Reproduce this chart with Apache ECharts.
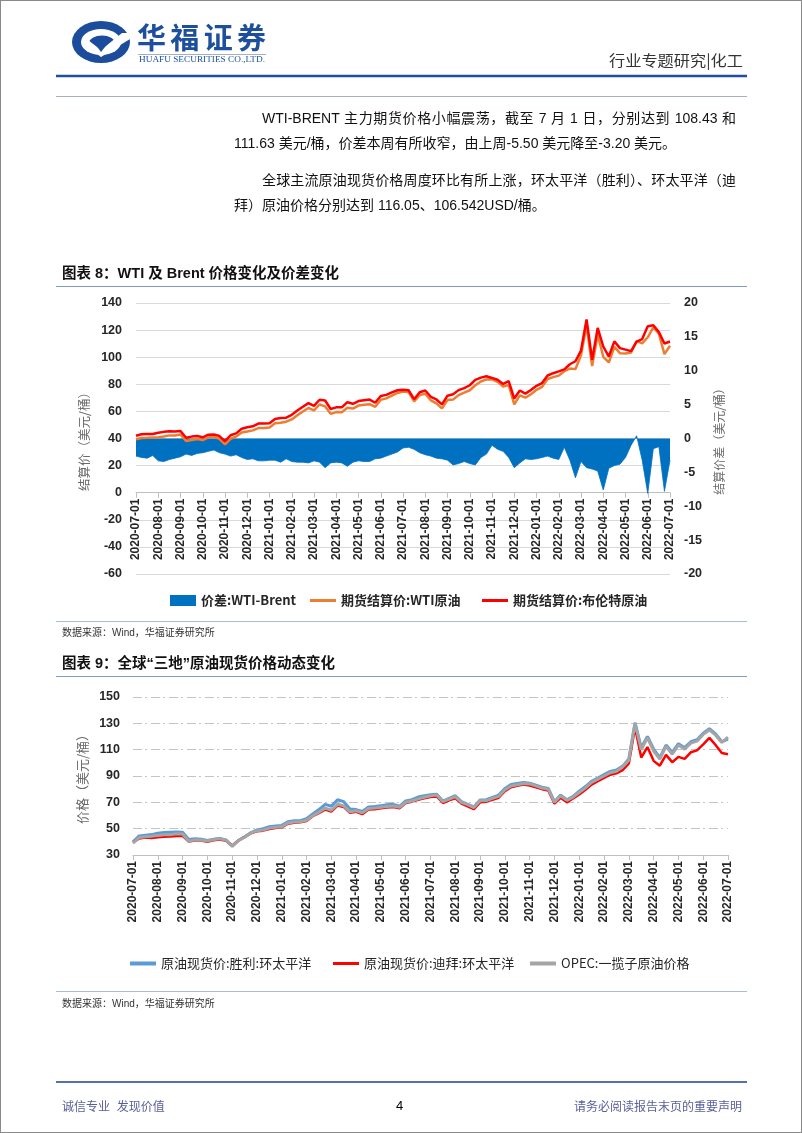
<!DOCTYPE html>
<html><head><meta charset="utf-8">
<script src="https://cdn.jsdelivr.net/npm/echarts@6/dist/echarts.min.js"></script>
<style>
html,body{margin:0;padding:0;background:#fff;}
#page{position:relative;width:802px;height:1133px;overflow:hidden;font-family:"Liberation Sans","Noto Sans CJK SC",sans-serif;background:#fff;}
#frame{position:absolute;left:0;top:0;width:802px;height:1133px;box-sizing:border-box;border:1px solid #8a8a8a;pointer-events:none;}
#chart{position:absolute;left:0;top:0;width:802px;height:1133px;}
.t{position:absolute;white-space:nowrap;color:#111;}
.p{font-size:14px;line-height:20px;height:20px;}
.j{text-align:justify;text-align-last:justify;white-space:normal;overflow:hidden;}
.ttl{font-size:14.5px;font-weight:bold;line-height:20px;color:#111;}
.src{font-size:10px;line-height:14px;color:#333;}
.hl{position:absolute;height:0;}
</style></head>
<body><div id="page">
<div id="chart"></div>

<svg width="802" height="100" style="position:absolute;left:0;top:0">
  <ellipse cx="101" cy="42" rx="29" ry="21" fill="#1c4c9c"/>
  <ellipse cx="101" cy="42" rx="20" ry="13" fill="#fff"/>
  <ellipse cx="102" cy="43" rx="13" ry="7.5" fill="#1c4c9c"/>
  <path d="M88 40 L101 50 L122 33 L130 33 L130 39 L101 57 L86 46 Z" fill="#fff"/>
  <path d="M93 41 L101 47 L112 38 L101 52 Z" fill="#1c4c9c"/>
  <text x="137" y="49" font-size="29" font-weight="700" fill="#1d4f9c" font-family="Noto Sans CJK SC" textLength="129" lengthAdjust="spacing">华福证券</text>
  <line x1="138" y1="54.5" x2="266" y2="54.5" stroke="#8a9ab8" stroke-width="0.8"/>
  <text x="139" y="61.5" font-size="9" fill="#1d4f9c" font-family="Liberation Serif" textLength="126" lengthAdjust="spacingAndGlyphs">HUAFU SECURITIES CO.,LTD.</text>
  <text x="609" y="66" font-size="15" fill="#333" font-family="Noto Sans CJK SC" textLength="134" lengthAdjust="spacingAndGlyphs">行业专题研究|化工</text>
  <line x1="56" y1="76" x2="747" y2="76" stroke="#1f4e9a" stroke-width="2.5"/>
  <line x1="56" y1="96.5" x2="747" y2="96.5" stroke="#a8b0c0" stroke-width="1"/>
</svg>

<div class="t p j" style="left:262px;top:108px;width:474px;">WTI-BRENT 主力期货价格小幅震荡，截至 7 月 1 日，分别达到 108.43 和</div>
<div class="t p" style="left:234px;top:133px;">111.63 美元/桶，价差本周有所收窄，由上周-5.50 美元降至-3.20 美元。</div>
<div class="t p j" style="left:262px;top:170px;width:474px;">全球主流原油现货价格周度环比有所上涨，环太平洋（胜利）、环太平洋（迪</div>
<div class="t p" style="left:234px;top:195px;">拜）原油价格分别达到 116.05、106.542USD/桶。</div>

<div class="t ttl" style="left:62px;top:263px;">图表 8：WTI 及 Brent 价格变化及价差变化</div>
<div class="hl" style="left:56px;top:286px;width:691px;border-top:1.5px solid #7f9cc0;"></div>
<div class="hl" style="left:56px;top:621px;width:691px;border-top:1.5px solid #a9bdd6;"></div>
<div class="t src" style="left:62px;top:626px;">数据来源：Wind，华福证券研究所</div>

<div class="t ttl" style="left:62px;top:653px;">图表 9：全球“三地”原油现货价格动态变化</div>
<div class="hl" style="left:56px;top:676px;width:691px;border-top:1.5px solid #7f9cc0;"></div>
<div class="hl" style="left:56px;top:991px;width:691px;border-top:1.5px solid #a9bdd6;"></div>
<div class="t src" style="left:62px;top:997px;">数据来源：Wind，华福证券研究所</div>

<div class="hl" style="left:56px;top:1081px;width:691px;border-top:2px solid #5470b0;"></div>
<div class="t" style="left:62px;top:1099px;font-size:12px;line-height:16px;color:#5a5f9a;">诚信专业&nbsp;&nbsp;发现价值</div>
<div class="t" style="left:396px;top:1098px;font-size:13px;line-height:16px;color:#000;">4</div>
<div class="t" style="left:574px;top:1099px;font-size:12px;line-height:16px;color:#5a5f9a;">请务必阅读报告末页的重要声明</div>
<div id="frame"></div>
</div>
<script>
// ---------- categories ----------
const months = ['2020-07','2020-08','2020-09','2020-10','2020-11','2020-12',
  '2021-01','2021-02','2021-03','2021-04','2021-05','2021-06',
  '2021-07','2021-08','2021-09','2021-10','2021-11','2021-12',
  '2022-01','2022-02','2022-03','2022-04','2022-05','2022-06'];
const weekDays = ['01','08','16','23'];
const lastDate = '2022-07-01';
const categories = months.flatMap(m => weekDays.map(d => m + '-' + d)).concat([lastDate]);

// ---------- chart 8 data ----------
const brent = [42.0,43.1,43.4,43.3, 44.2,44.9,45.4,45.1, 45.6,40.5,41.4,41.9, 40.9,42.8,42.9,41.8,
  38.0,42.4,43.8,47.2, 48.3,49.0,51.0,51.1, 51.3,54.4,55.1,55.4, 57.5,60.6,63.4,66.1,
  64.1,68.6,68.0,61.8, 63.0,63.0,66.8,65.6, 67.6,68.3,68.7,66.4, 71.4,72.2,74.0,75.6,
  76.0,75.6,69.0,74.1, 75.4,70.8,68.8,65.2, 71.6,72.6,75.7,77.2, 79.3,83.2,84.9,85.9,
  84.7,83.4,80.3,82.3, 69.5,75.4,73.1,75.8, 78.9,80.9,86.5,88.2, 89.5,91.0,94.8,97.0,
  104.9,127.9,98.0,121.6, 107.9,100.5,111.7,106.7, 105.6,104.5,111.5,113.4, 122.8,123.6,118.5,110.1,
  111.6];
const wti = [39.4,40.3,40.5,40.8, 40.9,41.5,42.3,42.2, 42.9,38.2,38.9,39.7, 38.8,40.9,41.2,39.7,
  35.7,39.8,41.4,44.4, 45.2,46.0,47.7,47.8, 48.1,51.2,51.6,52.4, 54.1,57.1,59.9,62.5,
  60.8,65.1,63.7,58.2, 59.5,59.4,62.7,62.1, 64.3,64.9,65.3,63.4, 68.5,69.6,71.7,73.6,
  74.6,74.3,67.4,72.0, 73.0,68.2,65.9,62.2, 68.4,68.7,72.0,73.8, 75.6,79.3,82.1,83.6,
  83.7,81.8,78.4,79.5, 65.2,71.8,70.1,72.7, 75.9,78.1,83.9,85.3, 86.4,89.7,91.6,91.2,
  101.5,123.6,93.5,116.8, 100.3,96.1,107.7,102.9, 102.8,103.5,111.9,110.2, 114.7,122.1,117.3,102.3,
  108.4];
const spread = [-2.6,-2.8,-2.9,-2.5, -3.3,-3.4,-3.1,-2.9, -2.7,-2.3,-2.5,-2.2, -2.1,-1.9,-1.7,-2.1,
  -2.3,-2.6,-2.4,-2.8, -3.1,-3.0,-3.3,-3.3, -3.2,-3.2,-3.5,-3.0, -3.4,-3.5,-3.5,-3.6,
  -3.3,-3.5,-4.3,-3.6, -3.5,-3.6,-4.1,-3.5, -3.3,-3.4,-3.4,-3.0, -2.9,-2.6,-2.3,-2.0,
  -1.4,-1.3,-1.6,-2.1, -2.4,-2.6,-2.9,-3.0, -3.2,-3.9,-3.7,-3.4, -3.7,-3.9,-2.8,-2.3,
  -1.0,-1.6,-1.9,-2.8, -4.3,-3.6,-3.0,-3.1, -3.0,-2.8,-2.6,-2.9, -3.1,-1.3,-3.2,-5.8,
  -3.4,-4.3,-4.5,-4.8, -7.6,-4.4,-4.0,-3.8, -2.8,-1.0,0.4,-3.2, -8.1,-1.5,-1.2,-7.8,
  -3.2];

// ---------- chart 9 data ----------
const shengli = [40.0,44.5,45.0,45.5, 46.6,47.0,47.3,47.5, 47.2,41.8,42.4,42.0, 41.0,42.0,42.6,41.5,
  36.8,41.0,43.8,46.8, 49.0,50.0,51.5,52.0, 52.5,55.2,56.0,56.0, 57.5,61.2,64.5,68.5,
  67.0,72.0,70.5,65.0, 64.5,63.0,66.5,66.8, 67.5,68.2,68.5,67.0, 71.0,72.0,74.0,75.0,
  75.8,76.2,71.0,73.0, 75.0,70.5,68.5,66.5, 71.8,72.0,73.8,75.5, 80.5,83.5,84.3,85.0,
  84.5,83.0,81.5,80.5, 70.5,75.5,72.0,74.5, 78.5,82.0,86.0,88.5, 91.0,93.5,94.5,97.5,
  103.0,130.5,111.5,120.0, 110.5,104.0,113.5,108.0, 114.5,111.5,116.0,117.5, 122.5,126.0,122.0,116.0,
  118.0];
const dubai = [39.5,42.5,43.2,43.0, 43.5,43.8,44.0,44.5, 44.5,40.2,41.0,41.0, 40.0,41.2,41.8,40.8,
  37.0,41.0,43.5,46.5, 48.0,48.5,49.8,50.5, 51.0,53.8,54.5,54.8, 55.8,59.5,61.8,64.5,
  63.0,67.5,66.5,62.0, 62.8,61.0,64.5,64.8, 65.5,66.0,66.5,65.5, 69.5,70.5,72.0,73.0,
  74.0,74.5,69.5,71.5, 73.0,69.0,67.0,64.8, 70.0,70.5,72.0,73.5, 78.5,81.5,82.5,83.5,
  82.8,81.5,80.0,79.0, 69.0,73.5,70.0,73.0, 76.0,79.5,83.5,86.0, 88.5,91.0,92.0,94.5,
  99.5,127.0,104.0,112.0, 101.5,97.8,106.0,100.5, 104.5,103.0,108.0,109.5, 114.0,119.0,113.5,107.5,
  106.5];
const opec = [39.0,43.3,43.9,44.2, 44.9,45.3,45.4,46.2, 46.0,40.5,41.5,41.3, 40.6,41.8,42.4,41.3,
  36.5,40.9,43.5,46.6, 48.5,49.0,50.4,51.1, 51.4,54.3,55.0,55.2, 56.4,59.8,62.5,65.6,
  64.0,68.5,67.3,62.8, 63.6,62.0,65.3,65.6, 66.2,66.8,67.2,66.2, 70.0,71.0,72.6,73.9,
  75.0,75.5,70.5,72.4, 74.3,70.0,68.2,66.0, 71.2,71.3,73.0,74.5, 79.5,82.4,83.3,84.3,
  84.0,82.5,80.9,80.0, 70.0,75.0,71.5,74.0, 77.5,81.0,85.2,87.6, 90.0,92.5,93.5,97.0,
  102.0,130.0,110.0,119.0, 109.0,102.8,112.5,106.5, 113.5,110.3,115.0,116.5, 121.6,125.0,121.0,115.5,
  119.5];

// ---------- axis tick labels ----------
const ticks8Left = {min:-60, max:140, interval:20};
const ticks8Right = {min:-20, max:20, interval:5};
const ticks9 = {min:30, max:150, interval:20};

const names = {
  spread:'价差:WTI-Brent', wti:'期货结算价:WTI原油', brent:'期货结算价:布伦特原油',
  shengli:'原油现货价:胜利:环太平洋', dubai:'原油现货价:迪拜:环太平洋', opec:'OPEC:一揽子原油价格'
};

const FONT = '"Liberation Sans","Noto Sans CJK SC",sans-serif';
const CJK = '"Noto Sans CJK SC","Liberation Sans",sans-serif';
const monthStart = (idx, val) => /-01$/.test(val);
const lab = {fontFamily: FONT, fontWeight:'bold', fontSize:12, color:'#262626'};

// grid 0 geometry (used to put the x axis at the zero line of the left axis)
const g0 = {left:136, top:303, width:534, height:271};
const zeroOffset = -g0.height * (0 - ticks8Left.min) / (ticks8Left.max - ticks8Left.min);

function xAxisFor(grid){
  return {
    type:'category', gridIndex:grid, data:categories, boundaryGap:false, position:'bottom',
    offset: grid === 0 ? zeroOffset : 0,
    axisLine:{show:true, onZero:false, lineStyle:{color:'#bfbfbf', width:1}},
    axisTick:{show:true, interval:monthStart, length:5, lineStyle:{color:'#bfbfbf'}},
    axisLabel:Object.assign({interval:monthStart, rotate:90, margin:6}, lab),
    splitLine:{show:false}
  };
}

function legendFor(name, left, top, h, bold){
  return {data:[{name:name, icon:'rect'}], left:left, top:top, padding:0, itemWidth:26, itemHeight:h,
    selectedMode:false,
    textStyle:{fontFamily:CJK, fontWeight: bold ? 'bold' : 'normal', fontSize:13, color:'#262626'}};
}

const chart = echarts.init(document.getElementById('chart'), null, {renderer:'canvas'});
chart.setOption({
  animation:false,
  grid:[
    Object.assign({containLabel:false, outerBoundsMode:'none'}, g0),
    {left:133, top:697, width:595, height:158, containLabel:false, outerBoundsMode:'none'}
  ],
  legend:[
    legendFor(names.spread, 170, 594, 11, true),
    legendFor(names.wti, 310, 594, 3, true),
    legendFor(names.brent, 482, 594, 3, true),
    legendFor(names.shengli, 130, 957, 4, false),
    legendFor(names.dubai, 333, 957, 3, false),
    legendFor(names.opec, 530, 957, 4, false)
  ],
  xAxis:[xAxisFor(0), xAxisFor(1)],
  yAxis:[
    Object.assign({type:'value', gridIndex:0, position:'left',
      axisLine:{show:false}, axisTick:{show:false},
      axisLabel:Object.assign({margin:14}, lab, {fontSize:12.5}),
      splitLine:{show:true, lineStyle:{color:'#d9d9d9', width:1}},
      name:'结算价（美元/桶）', nameLocation:'middle', nameGap:41, nameRotate:90,
      nameTextStyle:{fontFamily:CJK, fontSize:12.5, color:'#6a6a6a'}}, ticks8Left),
    Object.assign({type:'value', gridIndex:0, position:'right',
      axisLine:{show:false}, axisTick:{show:false},
      axisLabel:Object.assign({margin:14}, lab, {fontSize:12.5}),
      splitLine:{show:false},
      name:'结算价差（美元/桶）', nameLocation:'middle', nameGap:41, nameRotate:90,
      nameTextStyle:{fontFamily:CJK, fontSize:12, color:'#6a6a6a'}}, ticks8Right),
    Object.assign({type:'value', gridIndex:1, position:'left',
      axisLine:{show:false}, axisTick:{show:false},
      axisLabel:Object.assign({margin:13}, lab, {fontSize:12.5}),
      splitLine:{show:true, lineStyle:{color:'#c4c4c4', width:1, type:[9,3,2,4]}},
      name:'价格（美元/桶）', nameLocation:'middle', nameGap:40, nameRotate:90,
      nameTextStyle:{fontFamily:CJK, fontSize:13, color:'#6a6a6a'}}, ticks9)
  ],
  series:[
    {name:names.spread, type:'line', xAxisIndex:0, yAxisIndex:1, data:spread, showSymbol:false,
     itemStyle:{color:'#0070c0'}, lineStyle:{color:'#0070c0', width:0.8},
     areaStyle:{color:'#0070c0', opacity:1, origin:0}},
    {name:names.wti, type:'line', xAxisIndex:0, yAxisIndex:0, data:wti, showSymbol:false,
     itemStyle:{color:'#ed7d31'}, lineStyle:{color:'#ed7d31', width:2.5}},
    {name:names.brent, type:'line', xAxisIndex:0, yAxisIndex:0, data:brent, showSymbol:false,
     itemStyle:{color:'#ff0000'}, lineStyle:{color:'#ff0000', width:2.5}},
    {name:names.shengli, type:'line', xAxisIndex:1, yAxisIndex:2, data:shengli, showSymbol:false,
     itemStyle:{color:'#5b9bd5'}, lineStyle:{color:'#5b9bd5', width:3}},
    {name:names.dubai, type:'line', xAxisIndex:1, yAxisIndex:2, data:dubai, showSymbol:false,
     itemStyle:{color:'#ff0000'}, lineStyle:{color:'#ff0000', width:2.5}},
    {name:names.opec, type:'line', xAxisIndex:1, yAxisIndex:2, data:opec, showSymbol:false,
     itemStyle:{color:'#a5a5a5'}, lineStyle:{color:'#a5a5a5', width:3}}
  ]
});
</script>
</body></html>
